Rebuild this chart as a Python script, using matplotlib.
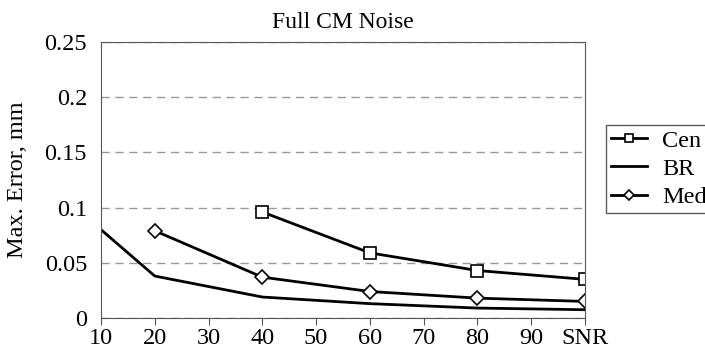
import numpy as np
import matplotlib.pyplot as plt

plt.rcParams['font.family'] = ['Liberation Serif', 'DejaVu Serif']

# SNR values and max error (mm) for each method
snr_br = [10, 20, 40, 60, 80, 100]
err_br = [0.080, 0.038, 0.019, 0.013, 0.009, 0.0075]

snr_med = [20, 40, 60, 80, 100]
err_med = [0.079, 0.037, 0.024, 0.018, 0.015]

snr_cen = [40, 60, 80, 100]
err_cen = [0.096, 0.059, 0.043, 0.035]

xticks = [10, 20, 30, 40, 50, 60, 70, 80, 90, 100]
xticklabels = ['10', '20', '30', '40', '50', '60', '70', '80', '90', 'SNR']

fig = plt.figure(figsize=(7.05, 3.51), dpi=100)
ax = fig.add_axes([101/705, 1 - 318/351, (585-101)/705, (318-42)/351])

ax.plot(snr_cen, err_cen, color='black', lw=2, marker='s', ms=9,
        mfc='white', mec='black', mew=1.2, label='Cen')
ax.plot(snr_br, err_br, color='black', lw=2, label='BR')
ax.plot(snr_med, err_med, color='black', lw=2, marker='D', ms=7,
        mfc='white', mec='black', mew=1.2, label='Med')

ax.set_xlim(10, 100)
ax.set_ylim(0, 0.25)
ax.set_xticks(xticks)
ax.set_xticklabels(xticklabels)
ax.set_yticks([0, 0.05, 0.1, 0.15, 0.2, 0.25])
ax.set_yticklabels(['0', '0.05', '0.1', '0.15', '0.2', '0.25'])
ax.tick_params(labelsize=17.5, direction='out', length=5, color='#555555')
ax.tick_params(axis='x', pad=2)
ax.tick_params(axis='y', length=0, pad=10)
for s in ax.spines.values():
    s.set_color('#555555')
ax.yaxis.grid(True, linestyle=(0, (6, 4)), color='#999999', lw=1)
ax.set_axisbelow(True)

ax.set_ylabel('Max. Error, mm', fontsize=17.5, labelpad=12)
ax.set_title('Full CM Noise', fontsize=17, pad=10)

leg = fig.legend(loc='upper left', bbox_to_anchor=(606/705, 1 - 125/351),
                 fontsize=17.5, frameon=True, fancybox=False, edgecolor='#333333',
                 handlelength=1.5, borderpad=0.2, labelspacing=0.25,
                 handletextpad=0.6, borderaxespad=0, markerscale=0.7)
leg.get_frame().set_linewidth(1)

fig.savefig('out.png', dpi=100)
